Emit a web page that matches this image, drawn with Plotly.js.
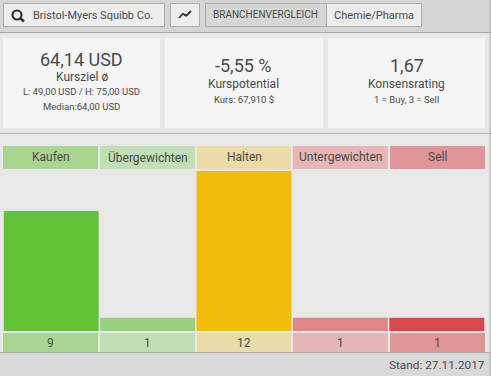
<!DOCTYPE html>
<html><head><meta charset="utf-8">
<script src="https://cdn.plot.ly/plotly-3.0.1.min.js"></script>
<style>html,body{margin:0;padding:0;background:#e8e8e8;overflow:hidden}#c{width:491px;height:376px}</style>
</head><body><div id="c"></div>
<script>
const categories = ["Kaufen","Übergewichten","Halten","Untergewichten","Sell"];
const counts = [9,1,12,1,1];
const barColors = ["#62c338","#98d180","#f1bc0a","#df8686","#d94848"];
const cellColors = ["#a8d690","#c0dfb4","#eadba8","#e4b6b8","#e09698"];
const cellX = [[3,98],[100,195],[197,291],[293,388],[390,485]];
const W = 491, H = 376, FONT = "Roboto, sans-serif", INK = "#4a4a4a";
const px = x => x / W, py = y => 1 - y / H;

const shapes = [], annotations = [];
function rect(x0,y0,x1,y1,fill,line){
  shapes.push({type:"rect",xref:"paper",yref:"paper",layer:"below",x0:px(x0),x1:px(x1),y0:py(y0),y1:py(y1),
    fillcolor:fill,line:line?{color:line,width:1}:{width:0}});
}
function label(x,y,text,size,color,anchor){
  annotations.push({xref:"paper",yref:"paper",x:px(x),y:py(y),text:text,showarrow:false,
    xanchor:anchor||"center",yanchor:"middle",font:{family:FONT,size:size,color:color||INK}});
}
// backgrounds
rect(0,0,491,32,"#d6d6d6");
rect(0,32,491,33,"#a8a8a8");
rect(0,133,491,134,"#b8b8b8");
rect(0,352,491,376,"#d9d9d9");
rect(0,352,490,353,"#a8a8a8");
rect(489.5,0,490.5,376,"#b0b0b0");
// toolbar
rect(3.5,3.5,164.5,26.5,"#ededed","#aaaaaa");
rect(170.5,3.5,199.5,26.5,"#ededed","#aaaaaa");
rect(205.5,3.5,326.5,26.5,"#d6d6d6","#aaaaaa");
rect(326.5,3.5,421.5,26.5,"#ededed","#aaaaaa");
label(30.5,15.5,"Bristol-Myers Squibb Co.",11,INK,"left");
label(265.5,15,"BRANCHENVERGLEICH",10);
label(373.5,15.5,"Chemie/Pharma",11);
// search icon
shapes.push({type:"circle",xref:"paper",yref:"paper",x0:px(12.5),x1:px(21.5),y0:py(10.5),y1:py(19.5),line:{color:"#333",width:2.2}});
shapes.push({type:"line",xref:"paper",yref:"paper",x0:px(20),x1:px(24),y0:py(18),y1:py(21.5),line:{color:"#333",width:2.6}});
// trend icon
[[179,18,183,13.5],[183,13.5,186,16],[186,16,191,11]].forEach(s=>shapes.push({type:"line",xref:"paper",yref:"paper",
  x0:px(s[0]),y0:py(s[1]),x1:px(s[2]),y1:py(s[3]),line:{color:"#333",width:1.8}}));
// panels
rect(3,38,160,128,"#f5f5f5");
rect(165,38,323,128,"#f5f5f5");
rect(328,38,485,128,"#f5f5f5");
label(81.5,59,"64,14 USD",18);
label(81.5,77,"Kursziel ø",12);
label(81.5,91.5,"L: 49,00 USD / H: 75,00 USD",9.5);
label(81.5,106.5,"Median:64,00 USD",9.5);
label(243.5,66,"-5,55 %",18);
label(243.5,84,"Kurspotential",12);
label(243.5,99,"Kurs: 67,910 $",9.5);
label(406.5,66,"1,67",18);
label(406.5,84,"Konsensrating",12);
label(406.5,99,"1 = Buy, 3 = Sell",9.5);
// category cells and count cells
categories.forEach((c,i)=>{
  const [a,b] = cellX[i], m = (a+b)/2;
  rect(a,146,b,169,cellColors[i]);
  rect(a,333,b,352,cellColors[i]);
  label(m,157,c,12);
  label(m,343,String(counts[i]),12);
});
label(487,365,"Stand: 27.11.2017",11.8,INK,"right");

Plotly.newPlot("c",[{
  type:"bar",x:categories,y:counts,marker:{color:barColors,line:{width:0}},
  hoverinfo:"skip",cliponaxis:false
}],{
  width:W,height:H,margin:{l:0,r:0,t:0,b:0},
  paper_bgcolor:"#e8e8e8",plot_bgcolor:"rgba(0,0,0,0)",
  showlegend:false,bargap:0.0155,
  xaxis:{domain:[px(3),px(485)],range:[-0.5,4.5],type:"category",visible:false,fixedrange:true},
  yaxis:{domain:[py(331),py(171)],range:[0,12],visible:false,fixedrange:true},
  shapes:shapes,annotations:annotations
},{displayModeBar:false,staticPlot:true});
</script></body></html>
